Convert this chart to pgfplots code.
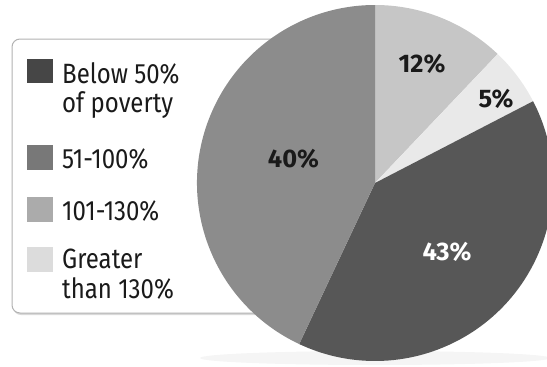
\documentclass[border=0pt]{standalone}
\usepackage{pgfplots}
\pgfplotsset{compat=1.18}
\usepackage{pgfplotstable}
\usepackage{fontspec}
\setmainfont{Fira Sans}[FakeStretch=0.86]
\newfontfamily\lblfont{Fira Sans}

\definecolor{sLight}{HTML}{C6C6C6}
\definecolor{sLightest}{HTML}{E9E9E9}
\definecolor{sDark}{HTML}{575757}
\definecolor{sMedium}{HTML}{8C8C8C}
\definecolor{gDark}{HTML}{464646}
\definecolor{gMedium}{HTML}{787878}
\definecolor{gLight}{HTML}{ABABAB}
\definecolor{gLightest}{HTML}{DCDCDC}
\definecolor{txt}{HTML}{1A1A1A}

% slices clockwise from 12 o'clock (share of the circle as drawn)
\pgfplotstableread{
share label
12.1 12
5.3 5
39.6 43
43.0 40
}\slices

\begin{document}
\begin{tikzpicture}
\pgfplotstablegetelem{0}{share}\of\slices \edef\sA{\pgfplotsretval}
\pgfplotstablegetelem{1}{share}\of\slices \edef\sB{\pgfplotsretval}
\pgfplotstablegetelem{2}{share}\of\slices \edef\sC{\pgfplotsretval}
\pgfplotstablegetelem{3}{share}\of\slices \edef\sD{\pgfplotsretval}
\pgfmathsetmacro\aZero{90}
\pgfmathsetmacro\aOne{90-3.6*\sA}
\pgfmathsetmacro\aTwo{\aOne-3.6*\sB}
\pgfmathsetmacro\aThree{\aTwo-3.6*\sC}
\pgfmathsetmacro\aFour{\aThree-3.6*\sD}
\begin{axis}[x=1bp,y=1bp,xmin=0,xmax=547,ymin=0,ymax=366,hide axis,clip=true]
\path (axis cs:0,0) rectangle (axis cs:547,366);
% legend box with shadow
\fill[gray!30,rounded corners=8bp] (axis cs:13,51) rectangle (axis cs:331,325);
\draw[gray!60,line width=1bp,fill=white,rounded corners=8bp] (axis cs:12,53) rectangle (axis cs:330,327);
% pie shadow
\fill[gray!8] (axis cs:375,8) ellipse[x radius=175bp,y radius=7bp];
% slices
\fill[sLight] (axis cs:375,183) -- ++(\aZero:178bp) arc[start angle=\aZero,end angle=\aOne,radius=178bp] -- cycle;
\fill[sLightest] (axis cs:375,183) -- ++(\aOne:178bp) arc[start angle=\aOne,end angle=\aTwo,radius=178bp] -- cycle;
\fill[sDark] (axis cs:375,183) -- ++(\aTwo:178bp) arc[start angle=\aTwo,end angle=\aThree,radius=178bp] -- cycle;
\fill[sMedium] (axis cs:375,183) -- ++(\aThree:178bp) arc[start angle=\aThree,end angle=\aFour,radius=178bp] -- cycle;
% slice labels
\begin{scope}[every node/.style={anchor=base,inner sep=0pt,font=\lblfont\fontsize{25.5}{27}\selectfont\bfseries}]
\node[txt] at (axis cs:422,294) {12\%};
\node[txt] at (axis cs:496,259) {5\%};
\node[txt] at (axis cs:293.5,199) {40\%};
\node[white] at (axis cs:447,106) {43\%};
\end{scope}
% legend
\fill[gDark] (axis cs:27,283) rectangle (axis cs:53,307);
\fill[gMedium] (axis cs:27,196) rectangle (axis cs:53,221);
\fill[gLight] (axis cs:27,144) rectangle (axis cs:53,169);
\fill[gLightest] (axis cs:27,94) rectangle (axis cs:53,119);
\begin{scope}[every node/.style={anchor=base west,inner sep=0pt,text=txt,font=\fontsize{28}{30}\selectfont}]
\node at (axis cs:62,283) {Below 50\%};
\node at (axis cs:62,254) {of poverty};
\node at (axis cs:62,198) {51-100\%};
\node at (axis cs:62,146) {101-130\%};
\node at (axis cs:62,98) {Greater};
\node at (axis cs:62,68) {than 130\%};
\end{scope}
\end{axis}
\end{tikzpicture}
\end{document}
